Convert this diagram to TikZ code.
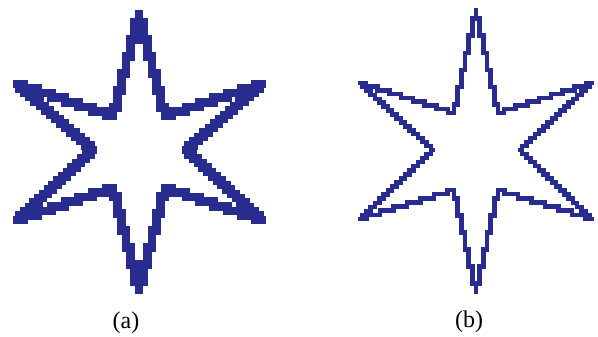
\documentclass[tikz,border=0pt]{standalone}
\usepackage{fontspec}
\setmainfont{Liberation Serif}
\definecolor{starblue}{RGB}{40,44,142}
\newcommand\stairedge[6]{% style, x1,y1,x2,y2, pixel
  \pgfmathsetmacro\dxx{#4-#2}\pgfmathsetmacro\dyy{#5-#3}
  \pgfmathtruncatemacro\NN{max(1,round(min(abs(\dxx),abs(\dyy))/#6))}
  \pgfmathsetmacro\sxx{\dxx/\NN}\pgfmathsetmacro\syy{\dyy/\NN}
  \pgfmathtruncatemacro\isvert{abs(\dyy)>abs(\dxx)}
  \ifnum\isvert=1
    \draw[#1] (#2,#3) \foreach \k in {1,...,\NN}{ -- ++(0,\syy/2) -- ++(\sxx,0) -- ++(0,\syy/2)};
  \else
    \draw[#1] (#2,#3) \foreach \k in {1,...,\NN}{ -- ++(\sxx/2,0) -- ++(0,\syy) -- ++(\sxx/2,0)};
  \fi}
\newcommand\stairstar[4]{% style, xs, ys, pixel
  \foreach \i in {0,...,11}{%
    \pgfmathtruncatemacro\jj{mod(\i+1,12)}%
    \pgfmathsetmacro\xa{#2[\i]}\pgfmathsetmacro\ya{#3[\i]}%
    \pgfmathsetmacro\xb{#2[\jj]}\pgfmathsetmacro\yb{#3[\jj]}%
    \stairedge{#1}{\xa}{\ya}{\xb}{\yb}{#4}}}
\begin{document}
\begin{tikzpicture}[x=1pt,y=-1pt,
  thickstar/.style={draw=starblue,line width=8.5pt,line cap=rect,line join=miter},
  thinstar/.style={draw=starblue,line width=4.5pt,line cap=rect,line join=miter},
  lbl/.style={font=\fontsize{24}{28}\selectfont,inner sep=0pt}]
\useasboundingbox (0,0) rectangle (598,337);
\def\axs{{139,165,262,186,262,165,139,113,17,93,17,113}}
\def\ays{{14,116,84,150,220,188,290,188,220,150,84,116}}
\stairstar{thickstar}{\axs}{\ays}{4.5}
\def\bxs{{476,498,592,520,592,498,476,454,360,433,360,454}}
\def\bys{{10,113,83,150,219,190,292,190,219,150,83,113}}
\stairstar{thinstar}{\bxs}{\bys}{4}
\node[lbl] (la) at (126,323) {(a)};
\node[lbl] (lb) at (469,322) {(b)};
\end{tikzpicture}
\end{document}
